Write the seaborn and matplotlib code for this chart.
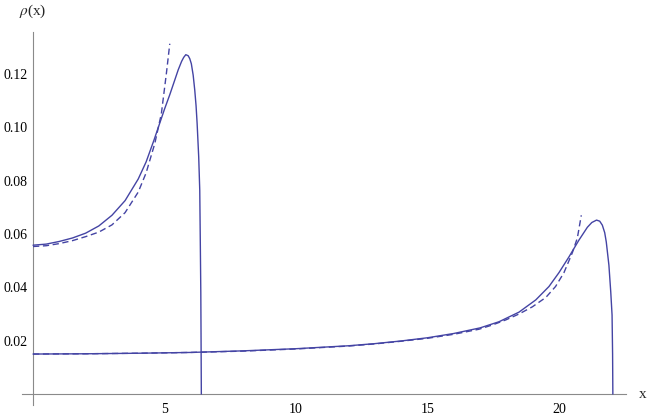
import matplotlib
matplotlib.use("Agg")
import matplotlib.pyplot as plt
import seaborn as sns
import pandas as pd
from matplotlib.ticker import FixedLocator, MultipleLocator, FormatStrFormatter

# ---- data ----
a_solid_x = [0.0, 0.5, 1.0, 1.5, 2.0, 2.5, 3.0, 3.5, 4.0, 4.3, 4.6, 4.8, 5.0, 5.2, 5.4,
             5.52, 5.65, 5.73, 5.81, 5.9, 5.96, 6.02, 6.09, 6.15, 6.2, 6.24, 6.30, 6.34,
             6.36, 6.38, 6.39, 6.40]
a_solid_y = [0.0558, 0.0562, 0.0572, 0.0585, 0.0603, 0.0630, 0.0670, 0.0725, 0.0806, 0.0870,
             0.0952, 0.1010, 0.1068, 0.1122, 0.1180, 0.1215, 0.1247, 0.1262, 0.1272, 0.1268,
             0.1257, 0.1238, 0.1195, 0.1139, 0.1080, 0.1014, 0.0889, 0.0764, 0.0577, 0.0380,
             0.0200, 0.0]

a_dash_x = [0.0, 0.5, 1.0, 1.5, 2.0, 2.5, 3.0, 3.5, 4.0, 4.3, 4.63, 4.88, 5.07, 5.20]
a_dash_y = [0.0553, 0.0556, 0.0564, 0.0575, 0.0590, 0.0607, 0.0634, 0.0680, 0.0757, 0.0829,
            0.0939, 0.1051, 0.1201, 0.1313]

b_solid_x = [0.0, 2.0, 4.0, 6.0, 8.0, 10.0, 12.0, 13.0, 14.0, 15.0, 16.0, 17.0, 17.72, 18.48,
             19.12, 19.62, 20.0, 20.38, 20.76, 21.08, 21.25, 21.43, 21.55, 21.65, 21.74, 21.80,
             21.90, 21.97, 22.02, 22.04, 22.05]
b_solid_y = [0.0150, 0.0151, 0.0153, 0.0156, 0.0162, 0.0170, 0.0181, 0.0189, 0.0199, 0.0211,
             0.0227, 0.0248, 0.0271, 0.0307, 0.0353, 0.0403, 0.0455, 0.0514, 0.0577, 0.0625,
             0.0643, 0.0652, 0.0648, 0.0633, 0.0605, 0.0570, 0.0483, 0.0383, 0.0296, 0.0150, 0.0]

b_dash_x = [0.0, 2.0, 4.0, 6.0, 8.0, 10.0, 12.0, 13.0, 14.0, 15.0, 16.0, 16.96, 17.47, 17.98,
            18.48, 18.99, 19.50, 19.87, 20.19, 20.51, 20.70, 20.85]
b_dash_y = [0.0150, 0.0151, 0.0153, 0.0156, 0.0161, 0.0169, 0.0180, 0.0188, 0.0198, 0.0209,
            0.0224, 0.0243, 0.0259, 0.0278, 0.0300, 0.0327, 0.0362, 0.0403, 0.0455, 0.0530,
            0.0585, 0.0670]

x_major = [5, 10, 15, 20]
y_major = [0.02, 0.04, 0.06, 0.08, 0.10, 0.12]

# ---- style ----
sns.set_style("white")
plt.rcParams["font.family"] = ["Liberation Serif", "DejaVu Serif"]
plt.rcParams["mathtext.fontset"] = "stix"

LINE = "#4444a4"
AXC = "#8a8a8a"

fig = plt.figure(figsize=(6.49, 4.18), dpi=100)
ax = fig.add_axes([22 / 649, 1 - 405 / 418, (626 - 22) / 649, (405 - 32) / 418])

dash = (0, (4.5, 2.6))
for xs, ys, ls in [(a_dash_x, a_dash_y, dash), (b_dash_x, b_dash_y, dash),
                   (a_solid_x, a_solid_y, "-"), (b_solid_x, b_solid_y, "-")]:
    df = pd.DataFrame({"x": xs, "y": ys})
    sns.lineplot(data=df, x="x", y="y", sort=False, estimator=None, ax=ax,
                 color=LINE, lw=1.0, linestyle=ls, zorder=3, clip_on=False)

ax.set_xlim(-0.42, 22.55)
ax.set_ylim(-0.0041, 0.1357)

for s in ["top", "right"]:
    ax.spines[s].set_visible(False)
ax.spines["left"].set_position(("data", 0))
ax.spines["bottom"].set_position(("data", 0))
for s in ["left", "bottom"]:
    ax.spines[s].set_color(AXC)
    ax.spines[s].set_linewidth(0.8)

ax.xaxis.set_major_locator(FixedLocator(x_major))
ax.xaxis.set_minor_locator(MultipleLocator(1))
ax.yaxis.set_major_locator(FixedLocator(y_major))
ax.yaxis.set_minor_locator(MultipleLocator(0.005))
ax.yaxis.set_major_formatter(FormatStrFormatter("%.2f"))

ax.tick_params(axis="both", which="major", direction="in", length=5.5, width=0.8,
               color=AXC, labelsize=10, labelcolor="black")
ax.tick_params(axis="both", which="minor", direction="in", length=3.2, width=0.8, color=AXC)
ax.tick_params(axis="x", which="major", pad=6.5)
ax.tick_params(axis="y", which="major", pad=4)

ax.set_xlabel("")
ax.set_ylabel("")
fig.text(33 / 649, 1 - 11 / 418, r"$\rho$(x)", ha="center", va="center", fontsize=11)
fig.text(643 / 649, 1 - 395 / 418, "x", ha="center", va="center", fontsize=11)

fig.savefig("out.png", dpi=100)
